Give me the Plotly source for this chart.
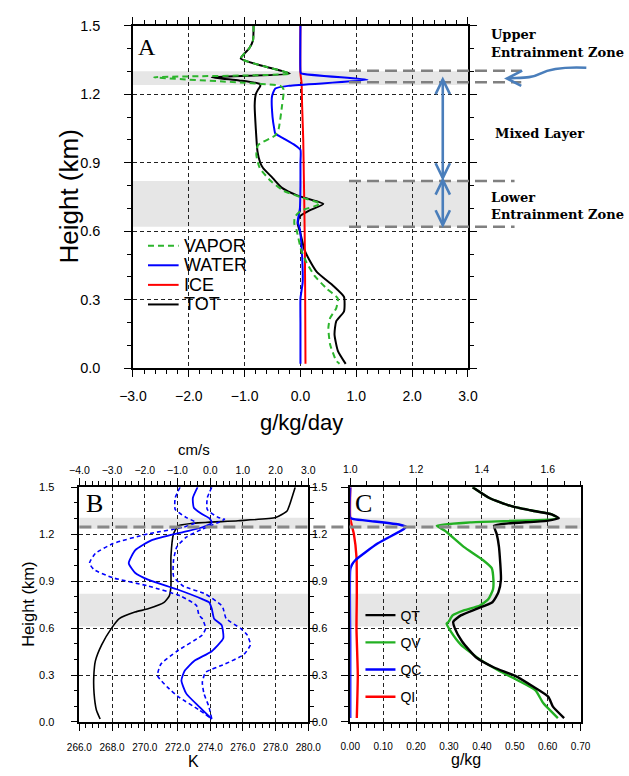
import plotly.graph_objects as go

W, H = 629, 776


def PX(x):
    return x / W


def PY(y):
    return 1 - y / H


# ---------------- Panel A: tendencies (g/kg/day) vs height (km) ----------------
A_TOT_H = [1.5, 1.435, 1.40, 1.356, 1.32, 1.29, 1.274, 1.26, 1.245, 1.235, 1.22, 1.2, 1.15, 1.05, 0.95, 0.9,
           0.877, 0.834, 0.79, 0.756, 0.72, 0.69, 0.663, 0.634, 0.59, 0.52, 0.477, 0.42, 0.363, 0.313, 0.249,
           0.206, 0.149, 0.077, 0.02]
A_TOT_X = [-0.84, -0.85, -0.92, -1.07, -0.62, -0.19, -1.59, -1.1, -0.73, -0.72, -0.76, -0.80, -0.82, -0.80,
           -0.77, -0.72, -0.67, -0.50, -0.33, -0.05, 0.41, 0.155, -0.02, -0.05, 0.0, 0.07, 0.155, 0.30, 0.58,
           0.78, 0.78, 0.64, 0.61, 0.67, 0.81]

A_VAP_H = [1.5, 1.435, 1.40, 1.356, 1.32, 1.29, 1.274, 1.25, 1.236, 1.22, 1.15, 1.049, 1.02, 0.977, 0.934,
           0.877, 0.82, 0.777, 0.749, 0.72, 0.69, 0.663, 0.634, 0.606, 0.52, 0.463, 0.406, 0.349, 0.306, 0.263,
           0.22, 0.177, 0.106, 0.034, 0.02]
A_VAP_X = [-0.84, -0.85, -0.92, -1.07, -0.62, -0.19, -2.62, -1.0, -0.36, -0.30, -0.33, -0.39, -0.45, -0.76,
           -0.79, -0.73, -0.53, -0.30, 0.01, 0.355, 0.01, -0.10, -0.11, -0.07, 0.01, 0.11, 0.25, 0.47, 0.67,
           0.64, 0.53, 0.50, 0.53, 0.64, 0.70]

A_WAT_H = [1.5, 1.30, 1.291, 1.263, 1.237, 1.225, 1.19, 1.10, 1.049, 1.027, 1.006, 0.977, 0.956, 0.9, 0.8,
           0.7, 0.64, 0.62, 0.59, 0.49, 0.377, 0.306, 0.2, 0.1, 0.02]
A_WAT_X = [0, 0, 0.01, 1.2, -0.2, -0.45, -0.51, -0.50, -0.47, -0.45, -0.30, -0.10, 0, 0, 0, -0.01, -0.05,
           -0.02, 0, 0.03, 0.04, 0, 0, 0, 0]

A_ICE_H = [1.5, 1.29, 1.25, 1.15, 1.0, 0.85, 0.7, 0.5, 0.3, 0.02]
A_ICE_X = [0, 0, 0.02, 0.03, 0.05, 0.06, 0.07, 0.08, 0.085, 0.09]

A_LEGEND = ["VAPOR", "WATER", "ICE", "TOT"]

# ---------------- Panel B: temperature (K) and vertical velocity (cm/s) ----------------
B_T_H = [1.5, 1.45, 1.40, 1.348, 1.306, 1.286, 1.269, 1.254, 1.202, 1.056, 0.869, 0.806, 0.764, 0.723, 0.702,
         0.66, 0.598, 0.494, 0.39, 0.285, 0.181, 0.077, 0.019]
B_T_K = [279.2, 279.05, 278.9, 278.7, 278.0, 275.7, 272.9, 272.06, 271.76, 271.6, 271.6, 271.5, 271.18, 270.2,
         269.4, 268.44, 267.96, 267.37, 266.98, 266.88, 266.9, 267.04, 267.27]

B_W_H = [1.5, 1.431, 1.369, 1.327, 1.302, 1.275, 1.244, 1.213, 1.16, 1.098, 1.015, 0.952, 0.91, 0.848, 0.785,
         0.764, 0.723, 0.66, 0.619, 0.535, 0.452, 0.39, 0.327, 0.265, 0.181, 0.098, 0.019]
B_W = [-0.385, -0.53, -0.5, -0.24, -0.03, 0.05, -0.24, -0.83, -1.80, -2.29, -2.49, -2.29, -1.90, -1.02, -0.24,
       -0.03, 0.05, 0.12, 0.35, 0.40, 0.05, -0.49, -0.78, -0.88, -0.73, -0.34, 0.05]

B_WLO_H = [1.5, 1.431, 1.358, 1.306, 1.275, 1.244, 1.202, 1.14, 1.077, 1.015, 0.973, 0.921, 0.869, 0.806, 0.744,
           0.681, 0.66, 0.598, 0.556, 0.452, 0.369, 0.296, 0.223, 0.161, 0.077, 0.019]
B_WLO = [-0.92, -1.07, -1.07, -0.73, -0.44, -0.83, -1.90, -2.97, -3.51, -3.69, -3.55, -2.97, -1.90, -0.92, -0.42,
         -0.34, -0.24, -0.14, -0.24, -1.02, -1.51, -1.61, -1.31, -0.97, -0.34, 0.05]

B_WHI_H = [1.5, 1.431, 1.358, 1.306, 1.296, 1.275, 1.233, 1.181, 1.119, 1.035, 0.931, 0.869, 0.817, 0.744, 0.723,
           0.66, 0.598, 0.556, 0.494, 0.431, 0.369, 0.317, 0.254, 0.181, 0.098, 0.019]
B_WHI = [0.05, -0.09, -0.09, 0.25, 0.44, 0.25, -0.24, -0.73, -1.02, -1.12, -1.12, -0.83, -0.14, 0.35, 0.40, 0.49,
         0.93, 1.13, 1.23, 1.03, 0.44, -0.14, -0.24, -0.19, -0.04, 0.05]

# ---------------- Panel C: mixing ratios (g/kg) ----------------
C_QT_H = [1.5, 1.431, 1.379, 1.348, 1.327, 1.302, 1.285, 1.269, 1.254, 1.202, 1.119, 0.91, 0.827, 0.765, 0.723,
          0.681, 0.64, 0.598, 0.514, 0.41, 0.348, 0.296, 0.223, 0.161, 0.098, 0.025]
C_QT = [1.372, 1.423, 1.49, 1.558, 1.612, 1.634, 1.597, 1.481, 1.437, 1.445, 1.452, 1.458, 1.45, 1.432, 1.384,
        1.336, 1.313, 1.318, 1.34, 1.384, 1.437, 1.50, 1.558, 1.602, 1.616, 1.65]

C_QV_H = [1.5, 1.431, 1.379, 1.348, 1.327, 1.302, 1.275, 1.254, 1.223, 1.119, 1.035, 0.983, 0.91, 0.848, 0.785,
          0.744, 0.713, 0.681, 0.64, 0.629, 0.577, 0.494, 0.4, 0.327, 0.265, 0.202, 0.119, 0.025]
C_QV = [1.372, 1.423, 1.49, 1.558, 1.612, 1.63, 1.365, 1.263, 1.287, 1.345, 1.403, 1.43, 1.435, 1.434, 1.42,
        1.394, 1.345, 1.311, 1.299, 1.293, 1.306, 1.336, 1.394, 1.452, 1.51, 1.563, 1.587, 1.631]

C_QC_H = [1.5, 1.306, 1.296, 1.281, 1.26, 1.248, 1.233, 1.14, 1.035, 1.004, 0.973, 0.5, 0.025]
C_QC = [0, 0, 0.011, 0.074, 0.151, 0.169, 0.163, 0.083, 0.016, 0.005, 0, 0, 0]

C_QI_H = [1.5, 1.30, 1.202, 1.056, 0.806, 0.598, 0.3, 0.025]
C_QI = [0, 0, 0.011, 0.019, 0.02, 0.019, 0.023, 0.02]

# zones (km)
ZONES_A = [(0.62, 0.82), (1.24, 1.30)]
ZONES_BC = [(0.61, 0.82), (1.235, 1.305)]
UPPER_LINES = [1.303, 1.252]
LOWER_LINES = [0.82, 0.62]
INV_HEIGHT = 1.245

GREEN_A = "#2db52d"
GREEN_C = "#22b022"
BLUE = "#0000ff"
RED = "#ff0000"
ARROW = "#4a7ebb"
FONT = "Liberation Sans"

fig = go.Figure()

# ---- Panel A traces
SPL = dict(shape="spline", smoothing=0.5)
fig.add_trace(go.Scatter(x=A_TOT_X, y=A_TOT_H, mode="lines", line=dict(color="black", width=2, **SPL),
                         xaxis="x", yaxis="y", showlegend=False))
fig.add_trace(go.Scatter(x=A_ICE_X, y=A_ICE_H, mode="lines", line=dict(color=RED, width=2, **SPL),
                         xaxis="x", yaxis="y", showlegend=False))
fig.add_trace(go.Scatter(x=A_WAT_X, y=A_WAT_H, mode="lines", line=dict(color=BLUE, width=2, **SPL),
                         xaxis="x", yaxis="y", showlegend=False))
fig.add_trace(go.Scatter(x=A_VAP_X, y=A_VAP_H, mode="lines",
                         line=dict(color=GREEN_A, width=2, dash="6px,4px", **SPL),
                         xaxis="x", yaxis="y", showlegend=False))

# ---- Panel B traces
fig.add_trace(go.Scatter(x=B_T_K, y=B_T_H, mode="lines", line=dict(color="black", width=1.6, **SPL),
                         xaxis="x2", yaxis="y2", showlegend=False))
fig.add_trace(go.Scatter(x=B_WLO, y=B_WLO_H, mode="lines", line=dict(color=BLUE, width=1.6, dash="4px,3px", **SPL),
                         xaxis="x3", yaxis="y2", showlegend=False))
fig.add_trace(go.Scatter(x=B_WHI, y=B_WHI_H, mode="lines", line=dict(color=BLUE, width=1.6, dash="4px,3px", **SPL),
                         xaxis="x3", yaxis="y2", showlegend=False))
fig.add_trace(go.Scatter(x=B_W, y=B_W_H, mode="lines", line=dict(color=BLUE, width=1.8, **SPL),
                         xaxis="x3", yaxis="y2", showlegend=False))

# ---- Panel C traces
fig.add_trace(go.Scatter(x=C_QI, y=C_QI_H, mode="lines", name="QI", line=dict(color=RED, width=2.4, **SPL),
                         xaxis="x4", yaxis="y3", legend="legend2", legendgroup="qi", legendrank=4))
fig.add_trace(go.Scatter(x=C_QC, y=C_QC_H, mode="lines", name="QC", line=dict(color=BLUE, width=2.4, **SPL),
                         xaxis="x4", yaxis="y3", legend="legend2", legendgroup="qc", legendrank=3))
fig.add_trace(go.Scatter(x=C_QV, y=C_QV_H, mode="lines", name="QV", line=dict(color=GREEN_C, width=2.4, **SPL),
                         xaxis="x5", yaxis="y3", legend="legend2", legendgroup="qv", legendrank=2))
fig.add_trace(go.Scatter(x=C_QT, y=C_QT_H, mode="lines", name="QT", line=dict(color="black", width=2.4, **SPL),
                         xaxis="x5", yaxis="y3", legend="legend2", legendgroup="qt", legendrank=1))

# ---- axes
LINE = dict(showline=True, linecolor="black", linewidth=1.5, zeroline=False, ticks="outside",
            tickcolor="black", tickwidth=1.2, ticklen=7)
GRID = dict(showgrid=True, gridcolor="#222222", gridwidth=1, griddash="4px,3px")
NOGRID = dict(showgrid=False)


def minor(d, ln=4):
    return dict(ticks="outside", ticklen=ln, dtick=d, tickcolor="black", tickwidth=1, showgrid=False)


fig.update_layout(
    width=W, height=H, margin=dict(l=0, r=0, t=0, b=0),
    paper_bgcolor="white", plot_bgcolor="white",
    font=dict(family=FONT, color="black"),
    showlegend=True,
    # Panel A
    xaxis=dict(domain=[PX(124.3), PX(474.3)], anchor="y", range=[-3, 3], dtick=1, tick0=0, tickformat=".1f",
               mirror="ticks", minor=minor(0.2), tickfont=dict(size=14), ticklabelstandoff=7, **LINE, **GRID),
    yaxis=dict(domain=[PY(368), PY(18)], anchor="x", range=[0, 1.5], dtick=0.3, tick0=0, tickformat=".1f",
               mirror="ticks", minor=minor(0.1), tickfont=dict(size=14.5), ticklabelstandoff=21, **LINE, **GRID),
    # Panel B
    xaxis2=dict(domain=[PX(68.3), PX(307.5)], anchor="y2", range=[266, 280], dtick=2, tick0=266,
                tickformat=".1f", mirror=True, minor=minor(0.4), tickfont=dict(size=10), ticklabelstandoff=8,
                **LINE, **GRID),
    xaxis3=dict(overlaying="x2", side="top", anchor="y2", range=[-4, 3], dtick=1, tick0=0, tickformat=".1f",
                minor=minor(0.2), tickfont=dict(size=10.5), ticklabelstandoff=0, **LINE, **NOGRID),
    yaxis2=dict(domain=[PY(729), PY(489.3)], anchor="x2", range=[0, 1.5], dtick=0.3, tick0=0, tickformat=".1f",
                mirror="ticks", minor=minor(0.1), tickfont=dict(size=11), ticklabelstandoff=14, **LINE, **GRID),
    # Panel C
    xaxis4=dict(domain=[PX(351.3), PX(592)], anchor="y3", range=[0, 0.7], dtick=0.1, tick0=0, tickformat=".2f",
                mirror=True, minor=minor(0.025), tickfont=dict(size=10), ticklabelstandoff=7, **LINE, **GRID),
    xaxis5=dict(overlaying="x4", side="top", anchor="y3", range=[1.0, 1.7], dtick=0.2, tick0=1.0,
                tickformat=".1f", minor=minor(0.05), tickfont=dict(size=10.5), ticklabelstandoff=1,
                **LINE, **NOGRID),
    yaxis3=dict(domain=[PY(729), PY(489.3)], anchor="x4", range=[0, 1.5], dtick=0.3, tick0=0, tickformat=".1f",
                mirror=True, minor=minor(0.1), tickfont=dict(size=11), ticklabelstandoff=12, **LINE, **GRID),
    yaxis4=dict(overlaying="y3", side="right", anchor="x4", range=[0, 1.5], dtick=0.3, tick0=0,
                tickformat=".1f", minor=minor(0.1), tickfont=dict(size=11), ticklabelstandoff=10,
                **LINE, **NOGRID),
    legend2=dict(x=PX(362), y=PY(604), xanchor="left", yanchor="top", font=dict(size=14, family=FONT),
                 bgcolor="rgba(0,0,0,0)", borderwidth=0, tracegroupgap=6, traceorder="grouped"),
)

shapes = []
# grey zones
for lo, hi in ZONES_A:
    shapes.append(dict(type="rect", xref="x domain", yref="y", x0=0, x1=1, y0=lo, y1=hi,
                       fillcolor="#e6e6e6", line=dict(width=0), layer="below"))
for xr, yr in (("x2 domain", "y2"), ("x4 domain", "y3")):
    for lo, hi in ZONES_BC:
        shapes.append(dict(type="rect", xref=xr, yref=yr, x0=0, x1=1, y0=lo, y1=hi,
                           fillcolor="#e6e6e6", line=dict(width=0), layer="below"))

# dashed zone boundary lines beside panel A
GDASH = dict(color="#808080", width=2.5, dash="12px,6px")
for yv in UPPER_LINES:
    shapes.append(dict(type="line", xref="paper", yref="y", x0=PX(350), x1=PX(530), y0=yv, y1=yv, line=GDASH))
for yv in LOWER_LINES:
    shapes.append(dict(type="line", xref="paper", yref="y", x0=PX(350), x1=PX(523), y0=yv, y1=yv, line=GDASH))
# inversion line across panels B and C
shapes.append(dict(type="line", xref="paper", yref="y2", x0=PX(68.3), x1=PX(592), y0=INV_HEIGHT, y1=INV_HEIGHT,
                   line=dict(color="#888888", width=3, dash="12px,6px")))


def path(points):
    s = ""
    for i, (x, y) in enumerate(points):
        s += ("M" if i == 0 else "L") + f"{PX(x):.5f},{PY(y):.5f} "
    return s.strip()


ALINE = dict(color=ARROW, width=2.6)
# double arrows
for (top, bot) in ((73, 173.5), (175.5, 221.5)):
    shapes.append(dict(type="path", xref="paper", yref="paper", path=path([(448, top), (448, bot)]), line=ALINE))
    shapes.append(dict(type="path", xref="paper", yref="paper",
                       path=path([(440.5, top + 15), (448, top), (455.5, top + 15)]), line=ALINE))
    shapes.append(dict(type="path", xref="paper", yref="paper",
                       path=path([(440.5, bot - 15), (448, bot), (455.5, bot - 15)]), line=ALINE))
# curved arrow pointing at upper entrainment zone
curve = (f"M{PX(598):.5f},{PY(61):.5f} C{PX(575):.5f},{PY(60):.5f} {PX(560):.5f},{PY(62):.5f} "
         f"{PX(550):.5f},{PY(67):.5f} C{PX(540):.5f},{PY(72):.5f} {PX(530):.5f},{PY(71):.5f} "
         f"{PX(515):.5f},{PY(72):.5f}")
shapes.append(dict(type="path", xref="paper", yref="paper", path=curve, line=ALINE))
shapes.append(dict(type="path", xref="paper", yref="paper",
                   path=path([(531, 64), (515, 72), (530, 79.5)]), line=ALINE))

# manual legend for panel A
A_LEG_STYLE = [dict(color=GREEN_A, width=2, dash="6px,4px"), dict(color=BLUE, width=2),
               dict(color=RED, width=2), dict(color="black", width=2)]
for i, st in enumerate(A_LEG_STYLE):
    yy = 242.7 + 20 * i
    shapes.append(dict(type="line", xref="paper", yref="paper", x0=PX(140), x1=PX(172), y0=PY(yy), y1=PY(yy),
                       line=st))

fig.update_layout(shapes=shapes)

ann = []
for i, name in enumerate(A_LEGEND):
    yy = 242.7 + 20 * i
    ann.append(dict(text=name, x=PX(176), y=PY(yy), xref="paper", yref="paper", xanchor="left", yanchor="middle",
                    showarrow=False, font=dict(size=18, family=FONT)))

SER = dict(family="DejaVu Serif", size=13, color="black")
for txt, x, y in (("<b>Upper</b>", 496, 27), ("<b>Entrainment Zone</b>", 496, 45), ("<b>Mixed Layer</b>", 500, 128),
                  ("<b>Lower</b>", 496, 193), ("<b>Entrainment Zone</b>", 496, 211)):
    ann.append(dict(text=txt, x=PX(x), y=PY(y), xref="paper", yref="paper", xanchor="left", yanchor="middle",
                    showarrow=False, font=SER))

# panel letters
for txt, x, y, sz in (("A", 139, 40, 24), ("B", 84, 506, 26), ("C", 365.5, 506, 26)):
    ann.append(dict(text=txt, x=PX(x), y=PY(y), xref="paper", yref="paper", xanchor="center", yanchor="middle",
                    showarrow=False, font=dict(family="Liberation Serif", size=sz)))

# axis titles
CM = dict(xref="paper", yref="paper", xanchor="center", yanchor="middle", showarrow=False)
ann.append(dict(text="Height (km)", x=PX(58), y=PY(193), textangle=-90, font=dict(size=26, family=FONT), **CM))
ann.append(dict(text="g/kg/day", x=PX(300), y=PY(423), font=dict(size=22, family=FONT), **CM))
ann.append(dict(text="Height (km)", x=PX(15), y=PY(609), textangle=-90, font=dict(size=16.5, family=FONT), **CM))
ann.append(dict(text="cm/s", x=PX(188), y=PY(451), font=dict(size=15, family=FONT), **CM))
ann.append(dict(text="K", x=PX(188), y=PY(769), font=dict(size=16, family=FONT), **CM))
ann.append(dict(text="g/kg", x=PX(472), y=PY(767), font=dict(size=16, family=FONT), **CM))

fig.update_layout(annotations=ann)

fig.write_html("out.html")
